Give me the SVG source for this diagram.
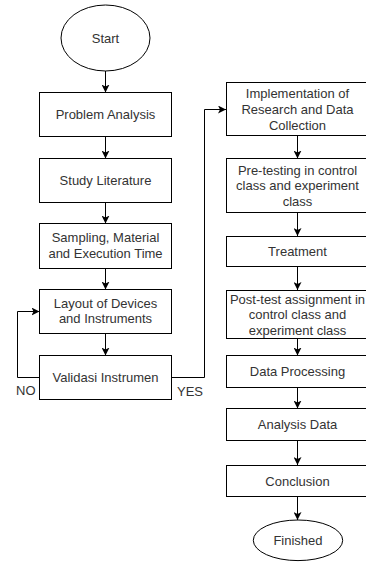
<svg xmlns="http://www.w3.org/2000/svg" width="366" height="562" viewBox="0 0 366 562">
<style>
.box{fill:#fff;stroke:#000;stroke-width:1}
.t{font-family:"Liberation Sans",Arial,sans-serif;font-size:13px;fill:#333;text-anchor:middle}
.l{font-family:"Liberation Sans",Arial,sans-serif;font-size:13px;fill:#333}
.c{fill:none;stroke:#000;stroke-width:1}
</style>
<defs>
<marker id="ah" markerWidth="8" markerHeight="8" viewBox="0 0 8 8" refX="8" refY="4" orient="auto" markerUnits="userSpaceOnUse">
<path d="M0,0 L8,4 L0,8 L2,4 Z" fill="#000"/>
</marker>
</defs>
<rect width="366" height="562" fill="#fff"/>
<g id="connectors">
<path class="c" d="M105.5,71 V92.5" marker-end="url(#ah)"/>
<path class="c" d="M105.5,136.5 V158.5" marker-end="url(#ah)"/>
<path class="c" d="M105.5,202.5 V223.5" marker-end="url(#ah)"/>
<path class="c" d="M105.5,268.5 V289.5" marker-end="url(#ah)"/>
<path class="c" d="M105.5,333.5 V355.5" marker-end="url(#ah)"/>
<path class="c" d="M39.5,377.5 H17.5 V311.5 H39.5" marker-end="url(#ah)"/>
<path class="c" d="M171.5,377.5 H204.5 V109.5 H226" marker-end="url(#ah)"/>
<path class="c" d="M297.5,135.5 V158.5" marker-end="url(#ah)"/>
<path class="c" d="M297.5,212.5 V236" marker-end="url(#ah)"/>
<path class="c" d="M297.5,266.5 V290" marker-end="url(#ah)"/>
<path class="c" d="M297.5,338.5 V355.5" marker-end="url(#ah)"/>
<path class="c" d="M297.5,387.5 V408.5" marker-end="url(#ah)"/>
<path class="c" d="M297.5,440.5 V465" marker-end="url(#ah)"/>
<path class="c" d="M297.5,496.5 V520" marker-end="url(#ah)"/>
<text class="l" x="16" y="395">NO</text>
<text class="l" x="177" y="396">YES</text>
</g>
<g id="start">
<ellipse class="box" cx="105.5" cy="38" rx="44.5" ry="33"/>
<text class="t" x="105.5" y="42.5">Start</text>
</g>
<g id="problem-analysis">
<rect class="box" x="39.5" y="92.5" width="132" height="44"/>
<text class="t" x="105.5" y="119">Problem Analysis</text>
</g>
<g id="study-literature">
<rect class="box" x="39.5" y="158.5" width="132" height="44"/>
<text class="t" x="105.5" y="185">Study Literature</text>
</g>
<g id="sampling">
<rect class="box" x="39.5" y="223.5" width="132" height="45"/>
<text class="t" x="105.5" y="242">Sampling, Material</text>
<text class="t" x="105.5" y="258">and Execution Time</text>
</g>
<g id="layout">
<rect class="box" x="39.5" y="289.5" width="132" height="44"/>
<text class="t" x="105.5" y="308">Layout of Devices</text>
<text class="t" x="105.5" y="323">and Instruments</text>
</g>
<g id="validasi">
<rect class="box" x="39.5" y="355.5" width="132" height="44"/>
<text class="t" x="105.5" y="382">Validasi Instrumen</text>
</g>
<g id="implementation">
<rect class="box" x="226.5" y="82.5" width="144" height="53"/>
<text class="t" x="297.5" y="98">Implementation of</text>
<text class="t" x="297.5" y="114">Research and Data</text>
<text class="t" x="297.5" y="130">Collection</text>
</g>
<g id="pre-testing">
<rect class="box" x="226.5" y="158.5" width="144" height="54"/>
<text class="t" x="297.5" y="174.5">Pre-testing in control</text>
<text class="t" x="297.5" y="190">class and experiment</text>
<text class="t" x="297.5" y="205.5">class</text>
</g>
<g id="treatment">
<rect class="box" x="226.5" y="236.5" width="144" height="30"/>
<text class="t" x="297.5" y="256">Treatment</text>
</g>
<g id="post-test">
<rect class="box" x="226.5" y="290.5" width="144" height="48"/>
<text class="t" x="297.5" y="303.5">Post-test assignment in</text>
<text class="t" x="297.5" y="319">control class and</text>
<text class="t" x="297.5" y="334.5">experiment class</text>
</g>
<g id="data-processing">
<rect class="box" x="226.5" y="355.5" width="144" height="32"/>
<text class="t" x="297.5" y="376">Data Processing</text>
</g>
<g id="analysis-data">
<rect class="box" x="226.5" y="408.5" width="144" height="32"/>
<text class="t" x="297.5" y="429">Analysis Data</text>
</g>
<g id="conclusion">
<rect class="box" x="226.5" y="465.5" width="144" height="31"/>
<text class="t" x="297.5" y="485.5">Conclusion</text>
</g>
<g id="finished">
<ellipse class="box" cx="298" cy="540.3" rx="44.7" ry="20.3"/>
<text class="t" x="298" y="545">Finished</text>
</g>
</svg>
